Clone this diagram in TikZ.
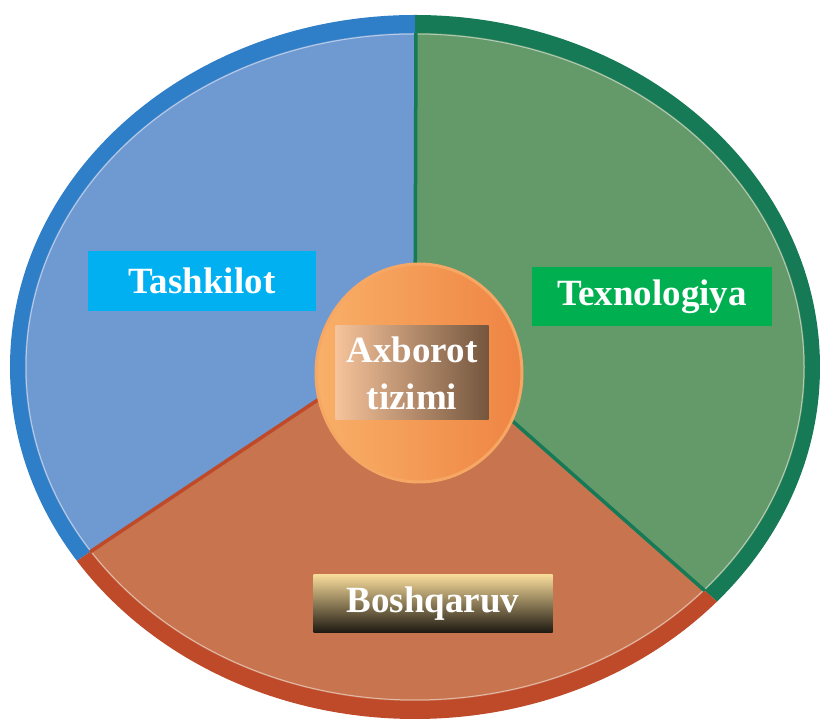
\documentclass[tikz,border=0pt]{standalone}
\usepackage{fontspec}
\setmainfont{Liberation Serif}
\usetikzlibrary{shapes.geometric, calc, positioning}

\definecolor{blueRim}{HTML}{2F7FC8}
\definecolor{blueFill}{HTML}{6F9AD1}
\definecolor{greenRim}{HTML}{177A57}
\definecolor{greenFill}{HTML}{64996A}
\definecolor{orangeRim}{HTML}{BE4A2A}
\definecolor{orangeFill}{HTML}{C8744F}
\definecolor{hubLight}{HTML}{F8B068}
\definecolor{hubDark}{HTML}{EF8443}
\definecolor{hubEdge}{HTML}{F5A763}
\definecolor{tashFill}{HTML}{00B0F0}
\definecolor{texFill}{HTML}{00B050}
\definecolor{axLeft}{HTML}{F6C39B}
\definecolor{axRight}{HTML}{74563E}
\definecolor{bqTop}{HTML}{F6DA9A}
\definecolor{bqBot}{HTML}{1C1810}

\begin{document}
\begin{tikzpicture}[
    x=1pt, y=1pt,
    tagbox/.style={rectangle, inner sep=0pt, align=center, text=white, font=\fontsize{37}{47}\selectfont\bfseries},
    hub/.style={ellipse, inner sep=0pt, minimum width=206, minimum height=218, draw=hubEdge, line width=3pt, left color=hubLight, right color=hubDark},
    split/.style={line width=3.5pt}
  ]
  \useasboundingbox (0,0) rectangle (820,727);

  % ============ PIE ============
  \coordinate (pc) at (415,392);
  \coordinate (lt) at (90,175);
  \coordinate (rt) at (713,129);

  % Tashkilot sector
  \begin{scope}
    \clip (pc) -- (415,1000) -- (-600,1000) -- ($(pc)!3!(lt)$) -- cycle;
    \fill[blueRim] (415,360) ellipse [x radius=405, y radius=352];
    \fill[blueFill] (415,360) ellipse [x radius=390, y radius=334];
  \end{scope}

  % Texnologiya sector
  \begin{scope}
    \clip (pc) -- ($(pc)!3!(rt)$) -- (1400,1000) -- (415,1000) -- cycle;
    \fill[greenRim] (415,360) ellipse [x radius=405, y radius=352];
    \fill[greenFill] (415,360) ellipse [x radius=390, y radius=334];
  \end{scope}

  % Boshqaruv sector
  \begin{scope}
    \clip (pc) -- ($(pc)!3!(lt)$) -- (-600,-700) -- (1400,-700) -- ($(pc)!3!(rt)$) -- cycle;
    \fill[orangeRim] (415,360) ellipse [x radius=405, y radius=352];
    \fill[orangeFill] (415,360) ellipse [x radius=390, y radius=334];
  \end{scope}

  % sector borders
  \begin{scope}
    \clip (415,360) ellipse [x radius=390, y radius=334];
    \draw[white, opacity=0.5, line width=1pt] (415,360) ellipse [x radius=389, y radius=333];
    \draw[split, greenRim] (pc) -- (417,1000);
    \draw[split, orangeRim] (pc) -- ($(pc)!3!(lt)$);
    \draw[split, greenRim] (pc) -- ($(pc)!3!(rt)$);
  \end{scope}

  % ============ CENTRE ============
  \node[hub] (hub) at (419,354) {};
  \node[tagbox, minimum width=153, minimum height=94, left color=axLeft, right color=axRight] (axb) at (412,354) {Axborot\\tizimi};

  % ============ LABELS ============
  \node[tagbox, fill=tashFill, minimum width=228, minimum height=60] (tash) at (202,446) {Tashkilot};
  \node[tagbox, fill=texFill, minimum width=240, minimum height=59] (tex) at (652,430) {Texnologiya};
  \node[tagbox, minimum width=239, minimum height=58, top color=bqTop, bottom color=bqBot] (bosh) at (433,123) {Boshqaruv};

\end{tikzpicture}
\end{document}
